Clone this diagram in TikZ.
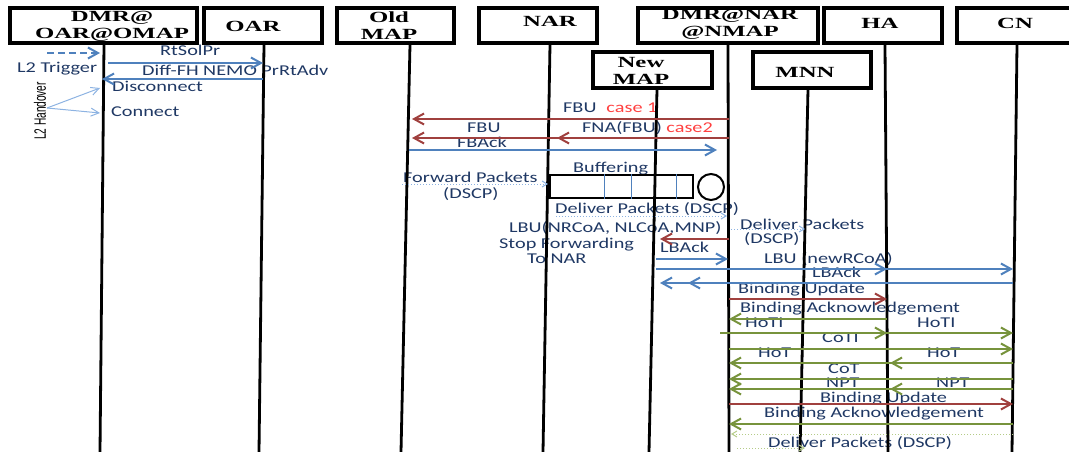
\documentclass[tikz,border=0pt]{standalone}
\usepackage{fontspec}
\setmainfont{Carlito}
\newfontfamily\hdrfont{Liberation Serif}
\newfontfamily\nrwfont{Liberation Sans}
\usetikzlibrary{arrows.meta,calc}
\definecolor{ublue}{HTML}{4F81BD}
\definecolor{ured}{HTML}{A0403E}
\definecolor{ugreen}{HTML}{77933C}
\definecolor{lblue}{HTML}{8DB3E2}
\definecolor{lgreen}{HTML}{B5CC88}
\definecolor{txt}{HTML}{1F3864}
\definecolor{casered}{HTML}{FF4040}
\newcommand{\lbl}[1]{\scalebox{1.35}[1]{#1}}
\newcommand{\htxt}[1]{\scalebox{1.6}[1]{\begin{tabular}{@{}c@{}}#1\end{tabular}}}
\begin{document}
\begin{tikzpicture}[x=1pt,y=-1pt,
  hdr/.style={draw=black,line width=3.2pt,fill=white,inner sep=0pt,minimum height=35pt},
  htext/.style={inner sep=0pt,text=black,font=\hdrfont\bfseries\fontsize{15.5}{17}\selectfont},
  life/.style={line width=2.8pt,black},
  lab/.style={inner sep=0pt,anchor=base west,text=txt,font=\fontsize{15}{17}\selectfont},
  tip/.style={-{Straight Barb[length=10pt,width=11pt]}},
  mb/.style={tip,ublue,line width=2pt},
  mr/.style={tip,ured,line width=2pt},
  mg/.style={tip,ugreen,line width=2pt},
  dotb/.style={-{Straight Barb[length=5pt,width=6pt]},lblue,line width=1pt,dotted},
  dotg/.style={-{Straight Barb[length=5pt,width=6pt]},lgreen,line width=1pt,dotted},
  thinb/.style={-{Straight Barb[length=8pt,width=8pt]},lblue,line width=1pt}
]
\useasboundingbox (0,0) rectangle (1069,452);
\clip (0,0) rectangle (1069,452);

% ---------- lifeline positions ----------
\coordinate (T-dmr1) at (104,0);   \coordinate (B-dmr1) at (100,452);
\coordinate (T-oar) at (264,0);    \coordinate (B-oar) at (259,452);
\coordinate (T-oldmap) at (410,0); \coordinate (B-oldmap) at (401,452);
\coordinate (T-nar) at (550,0);    \coordinate (B-nar) at (543,452);
\coordinate (T-newmap) at (657,0); \coordinate (B-newmap) at (649,452);
\coordinate (T-dmr2) at (728,0);   \coordinate (B-dmr2) at (729,452);
\coordinate (T-mnn) at (808,0);    \coordinate (B-mnn) at (800,452);
\coordinate (T-ha) at (885,0);     \coordinate (B-ha) at (888,452);
\coordinate (T-cn) at (1017,0);    \coordinate (B-cn) at (1012,452);

\coordinate (M-dmr1) at (102,0);
\coordinate (M-oar) at (263,0);
\coordinate (M-oldmap) at (409,0);
\coordinate (M-nar) at (549,0);
\coordinate (M-newmap) at (656,0);
\coordinate (M-dmr2) at (729,0);
\coordinate (M-mnn) at (805,0);
\coordinate (M-ha) at (887,0);
\coordinate (M-cn) at (1013,0);

% ---------- labels ----------
\node[lab] (l-rtsolpr) at (160,56) {\lbl{RtSolPr}};
\node[lab] (l-diff) at (142,76) {\lbl{Diff-FH NEMO PrRtAdv}};
\node[lab] (l-trig) at (17,73) {\lbl{L2 Trigger}};
\node[lab] (l-disc) at (112,92) {\lbl{Disconnect}};
\node[lab] (l-conn) at (111,117) {\lbl{Connect}};
\node[inner sep=0pt,rotate=90,text=black,font=\nrwfont\fontsize{11}{13}\selectfont] (l-l2h) at (40,111) {\scalebox{0.92}[1.5]{L2 Handover}};
\node[lab] (l-fbu1) at (563,112) {\lbl{FBU\hspace{4pt} \textcolor{casered}{case 1}}};
\node[lab] (l-fbu2) at (467,132) {\lbl{FBU}};
\node[lab] (l-fna) at (582,132) {\lbl{FNA(FBU) \textcolor{casered}{case2}}};
\node[lab] (l-fback) at (457,147) {\lbl{FBAck}};
\node[lab] (l-buf) at (573,172) {\lbl{Buffering}};
\node[lab] (l-fwd) at (403,182) {\lbl{Forward Packets}};
\node[lab] (l-fwd2) at (443,198) {\lbl{(DSCP)}};
\node[lab] (l-del1) at (555,213) {\lbl{Deliver Packets (DSCP)}};
\node[lab] (l-lbu) at (509,232) {\lbl{LBU(NRCoA, NLCoA,MNP)}};
\node[lab] (l-stop) at (499,248) {\lbl{Stop Forwarding}};
\node[lab] (l-tonar) at (527,263) {\lbl{To NAR}};
\node[lab] (l-lback1) at (660,252) {\lbl{LBAck}};
\node[lab] (l-del2) at (740,229) {\lbl{Deliver Packets}};
\node[lab] (l-del2b) at (744,243) {\lbl{(DSCP)}};
\node[lab] (l-lbu2) at (764,263) {\lbl{LBU (newRCoA)}};
\node[lab] (l-lback2) at (812,277) {\lbl{LBAck}};
\node[lab] (l-bu1) at (738,293) {\lbl{Binding Update}};
\node[lab] (l-ba1) at (740,312) {\lbl{Binding Acknowledgement}};
\node[lab] (l-hoti1) at (745,327) {\lbl{HoTI}};
\node[lab] (l-hoti2) at (917,327) {\lbl{HoTI}};
\node[lab] (l-coti) at (822,342) {\lbl{CoTI}};
\node[lab] (l-hot1) at (758,357) {\lbl{HoT}};
\node[lab] (l-hot2) at (927,357) {\lbl{HoT}};
\node[lab] (l-cot) at (828,373) {\lbl{CoT}};
\node[lab] (l-npt1) at (826,387) {\lbl{NPT}};
\node[lab] (l-npt2) at (936,387) {\lbl{NPT}};
\node[lab] (l-bu2) at (820,402) {\lbl{Binding Update}};
\node[lab] (l-ba2) at (764,417) {\lbl{Binding Acknowledgement}};
\node[lab] (l-del3) at (768,447) {\lbl{Deliver Packets (DSCP)}};

% ---------- header boxes ----------
\node[hdr,minimum width=187pt] (b-dmr1) at (103.5,25.5) {};
\node[hdr,minimum width=118pt] (b-oar) at (263,25.5) {};
\node[hdr,minimum width=117pt] (b-oldmap) at (395.5,25.5) {};
\node[hdr,minimum width=118pt] (b-nar) at (538,25.5) {};
\node[hdr,minimum width=180pt] (b-dmr2) at (728,25.5) {};
\node[hdr,minimum width=118pt] (b-ha) at (883,25.5) {};
\node[hdr,minimum width=118pt] (b-cn) at (1016,25.5) {};
\node[hdr,minimum width=119pt,minimum height=36pt] (b-newmap) at (652.5,70) {};
\node[hdr,minimum width=118pt,minimum height=36pt] (b-mnn) at (812,70) {};

\node[htext] (t-dmr1) at (112,27.1) {\htxt{DMR@\\OAR@OMAP}};
\node[htext] (t-oar) at (253,28.6) {\htxt{OAR}};
\node[htext] (t-oldmap) at (389,27.5) {\htxt{Old\\MAP}};
\node[htext] (t-nar) at (550,23.6) {\htxt{NAR}};
\node[htext] (t-dmr2) at (730,25.1) {\htxt{DMR@NAR\\@NMAP}};
\node[htext] (t-ha) at (880,25.6) {\htxt{HA}};
\node[htext] (t-cn) at (1015,25.6) {\htxt{CN}};
\node[htext] (t-newmap) at (641,72.5) {\htxt{New\\MAP}};
\node[htext] (t-mnn) at (805,73.6) {\htxt{MNN}};

% ---------- lifelines ----------
\draw[life] (b-dmr1.south -| T-dmr1) -- (B-dmr1);
\draw[life] (b-oar.south -| T-oar) -- (B-oar);
\draw[life] (b-oldmap.south -| T-oldmap) -- (B-oldmap);
\draw[life] (b-nar.south -| T-nar) -- (B-nar);
\draw[life] (b-newmap.south -| T-newmap) -- (B-newmap);
\draw[life] (b-dmr2.south -| T-dmr2) -- (B-dmr2);
\draw[life] (b-mnn.south -| T-mnn) -- (B-mnn);
\draw[life] (b-ha.south -| T-ha) -- (B-ha);
\draw[life] (b-cn.south -| T-cn) -- (B-cn);

% ---------- buffer ----------
\node[draw=black,line width=2pt,minimum width=143pt,minimum height=23pt,inner sep=0pt] (buf) at (621.5,186.5) {};
\draw[ublue,line width=0.9pt] (buf.north -| 604,0) -- (buf.south -| 604,0);
\draw[ublue,line width=0.9pt] (buf.north -| 631,0) -- (buf.south -| 631,0);
\draw[ublue,line width=0.9pt] (buf.north -| 676,0) -- (buf.south -| 676,0);
\node[draw=black,line width=2pt,circle,minimum size=26pt,inner sep=0pt] (bufc) at (711,187) {};

% ---------- messages ----------
\coordinate (c-trig) at (47,53);
\draw[mb,dash pattern=on 7pt off 4pt] (c-trig) -- ($(M-dmr1|-0,53)+(-2,0)$);
\draw[mb] ($(M-dmr1|-0,63)+(6,0)$) -- (M-oar|-0,63);
\draw[mb] (M-oar|-0,79) -- (M-dmr1|-0,79);
\coordinate (c-l2h) at (47,108);
\draw[thinb] (c-l2h) -- ($(M-dmr1|-0,88)+(-2,0)$);
\draw[thinb] (c-l2h) -- ($(M-dmr1|-0,113)+(-2,0)$);

\draw[mr] (M-dmr2|-0,119) -- ($(M-oldmap|-0,119)+(3,0)$);
\draw[mr] (M-dmr2|-0,138) -- ($(M-oldmap|-0,138)+(3,0)$);
\draw[mr] (M-dmr2|-0,138) -- ($(M-nar|-0,138)+(8,0)$);
\draw[mb] (M-oldmap|-0,150) -- ($(M-dmr2|-0,150)+(-12,0)$);

\coordinate (c-fwd) at (402,184);
\draw[dotb] (c-fwd) -- ($(M-nar|-0,184)+(-1,0)$);
\coordinate (c-del1) at (556,216);
\draw[dotb] (c-del1) -- ($(M-dmr2|-0,216)+(-2,0)$);
\draw[dotb] ($(M-dmr2|-0,229)+(2,0)$) -- (M-mnn|-0,229);

\draw[mr] (M-dmr2|-0,239) -- ($(M-newmap|-0,239)+(4,0)$);
\draw[mb] (M-newmap|-0,259) -- ($(M-dmr2|-0,259)+(-1,0)$);
\draw[mb] (M-newmap|-0,269) -- (M-cn|-0,269);
\draw[mb] (M-newmap|-0,269) -- (M-ha|-0,269);
\draw[mb] (M-cn|-0,283) -- ($(M-newmap|-0,283)+(4,0)$);
\draw[mb] (M-cn|-0,283) -- ($(M-newmap|-0,283)+(32,0)$);

\draw[mr] (M-dmr2|-0,299) -- (M-ha|-0,299);
\draw[mg] (M-ha|-0,319) -- (M-dmr2|-0,319);
\draw[mg] ($(M-dmr2|-0,333)+(-9,0)$) -- (M-cn|-0,333);
\draw[mg] ($(M-dmr2|-0,333)+(-9,0)$) -- (M-ha|-0,333);
\draw[mg] (M-dmr2|-0,349) -- (M-cn|-0,349);
\draw[mg] (M-cn|-0,363) -- (M-dmr2|-0,363);
\draw[mg] (M-cn|-0,363) -- ($(M-ha|-0,363)+(3,0)$);
\draw[mg] (M-cn|-0,379) -- (M-dmr2|-0,379);
\draw[mg] (M-cn|-0,389) -- (M-dmr2|-0,389);
\draw[mg] (M-cn|-0,389) -- ($(M-ha|-0,389)+(3,0)$);
\draw[mr] (M-dmr2|-0,404) -- (M-cn|-0,404);
\draw[mg] (M-cn|-0,424) -- (M-dmr2|-0,424);
\draw[dotg] (M-cn|-0,434) -- ($(M-dmr2|-0,434)+(2,0)$);
\draw[dotg] ($(M-dmr2|-0,448)+(8,0)$) -- (M-mnn|-0,448);
\end{tikzpicture}
\end{document}
